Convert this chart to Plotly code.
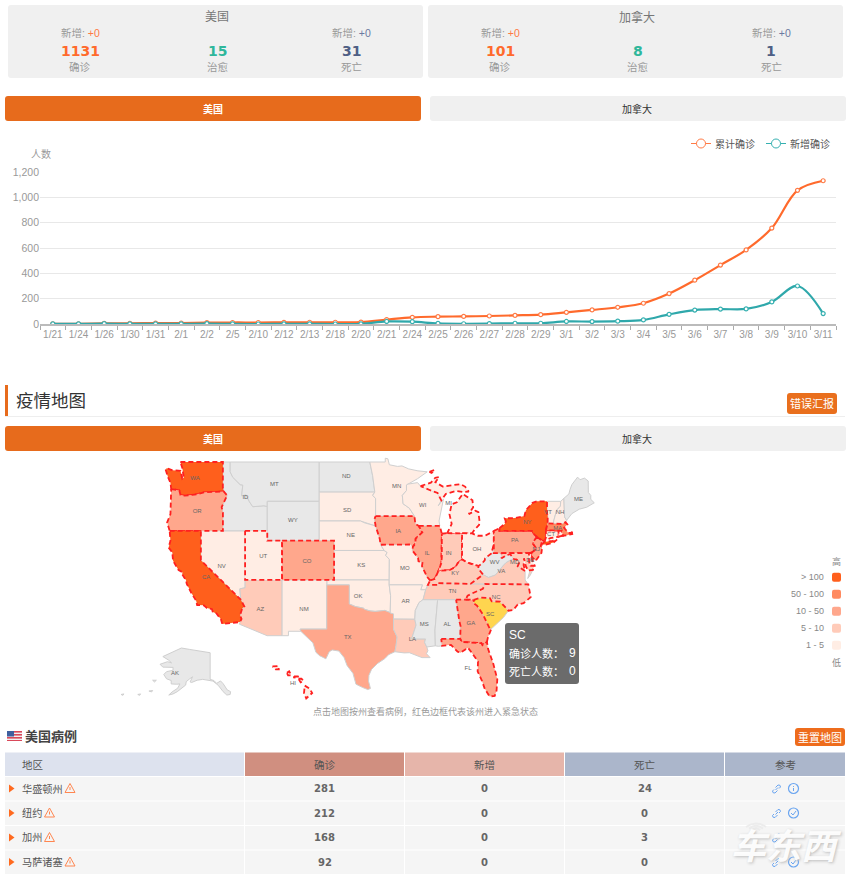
import plotly.graph_objects as go

FONT = "Liberation Sans, Noto Sans CJK SC"
NUMFONT = "DejaVu Sans, Noto Sans CJK SC"

# line chart data
dates = ['1/21', '1/24', '1/26', '1/30', '1/31', '2/1', '2/2', '2/5', '2/10', '2/12', '2/13', '2/18', '2/20', '2/21',
         '2/24', '2/25', '2/26', '2/27', '2/28', '2/29', '3/1', '3/2', '3/3', '3/4', '3/5', '3/6', '3/7', '3/8',
         '3/9', '3/10', '3/11']
total_cases = [1, 2, 5, 6, 7, 8, 11, 12, 12, 13, 14, 14, 15, 35, 53, 58, 60, 63, 68, 74, 92, 111, 132, 164, 240, 346,
               465, 585, 757, 1055, 1131]
new_cases = [1, 1, 3, 1, 1, 1, 3, 1, 0, 1, 1, 0, 1, 20, 18, 5, 2, 3, 6, 6, 20, 19, 22, 32, 76, 110, 118, 119, 174,
             300, 82]
y_ticks = [0, 200, 400, 600, 800, 1000, 1200]

# summary cards
card_names = ['美国', '加拿大']
card_confirmed = ['1131', '101']
card_cured = ['15', '8']
card_dead = ['31', '1']

# table
table_header = ['地区', '确诊', '新增', '死亡', '参考']
table_states = ['华盛顿州', '纽约', '加州', '马萨诸塞']
table_confirmed = [281, 212, 168, 92]
table_new = [0, 0, 0, 0]
table_dead = [24, 0, 3, 0]

# map legend
legend_labels = ['> 100', '50 - 100', '10 - 50', '5 - 10', '1 - 5']
legend_colors = ['#ff5f1c', '#ff8a60', '#ffa78c', '#ffcbb9', '#ffede4']

states_over_100 = ['WA', 'CA', 'NY']
states_50_100 = ['MA']
states_10_50 = ['OR', 'CO', 'TX', 'IA', 'IL', 'GA', 'FL', 'PA', 'NJ']
states_5_10 = ['AZ', 'LA', 'IN', 'KY', 'TN', 'NC', 'VA', 'MD']
states_1_5 = ['NV', 'UT', 'NM', 'SD', 'NE', 'KS', 'OK', 'MN', 'MO', 'AR', 'WI', 'MI', 'OH', 'DE', 'CT', 'RI', 'VT',
              'NH', 'HI']
states_none = ['ID', 'MT', 'WY', 'ND', 'MS', 'AL', 'WV', 'ME', 'AK']
states_hover = ['SC']
states_emergency = ['WA', 'OR', 'CA', 'UT', 'CO', 'IA', 'IL', 'IN', 'MI', 'OH', 'KY', 'GA', 'FL', 'NC', 'PA', 'NY',
                    'NJ', 'MD', 'DE', 'CT', 'RI', 'MA', 'HI']

# state outlines in lon/lat, parts split by None
WA = [(-122.76, 49), (-117.03, 49), (-117.04, 46.42), (-116.92, 46), (-119, 45.93), (-119.6, 45.92), (-120.5, 45.72),
      (-121.2, 45.65), (-122.2, 45.58), (-122.75, 45.65), (-122.9, 46.1), (-123.4, 46.2), (-124, 46.25), (-124.1, 46.9),
      (-124.4, 47.4), (-124.73, 48.17), (-124.6, 48.38), (-123.9, 48.17), (-123.1, 48.15), (-122.75, 48.1),
      (-122.6, 47.6), (-122.5, 47.3), (-122.3, 47.4), (-122.35, 47.9), (-122.5, 48.4)]
OR = [(-124, 46.25), (-123.4, 46.2), (-122.9, 46.1), (-122.75, 45.65), (-122.2, 45.58), (-121.2, 45.65), (-120.5, 45.72),
      (-119.6, 45.92), (-119, 45.93), (-116.92, 46), (-116.46, 45.6), (-116.85, 44.95), (-117.2, 44.4), (-117.03, 43.85),
      (-117.03, 42), (-124.21, 42), (-124.55, 42.84), (-124.1, 43.7), (-124.07, 44.7), (-123.95, 45.6)]
CA = [(-124.21, 42), (-120, 42), (-120, 39), (-114.63, 35), (-114.14, 34.3), (-114.43, 34.1), (-114.72, 33.4),
      (-114.52, 33.03), (-114.72, 32.72), (-117.12, 32.53), (-117.3, 33), (-117.9, 33.6), (-118.4, 33.75), (-118.5, 34.03),
      (-119.2, 34.15), (-119.6, 34.42), (-120.5, 34.45), (-120.65, 34.9), (-121.3, 35.7), (-121.9, 36.6), (-122, 36.96),
      (-122.5, 37.55), (-122.5, 37.8), (-123, 38), (-123.75, 38.95), (-123.85, 39.8), (-124.35, 40.3), (-124.1, 41)]
NV = [(-120, 42), (-114.04, 42), (-114.04, 36.2), (-114.74, 36.1), (-114.63, 35), (-120, 39)]
ID = [(-117.03, 49), (-116.05, 49), (-116.05, 48), (-115.7, 47.45), (-114.7, 46.7), (-114.35, 46.65), (-114.5, 45.57),
      (-113.9, 45.65), (-113.45, 44.95), (-113, 44.45), (-111.5, 44.55), (-111.05, 44.47), (-111.05, 42), (-117.03, 42),
      (-117.03, 43.85), (-117.2, 44.4), (-116.85, 44.95), (-116.46, 45.6), (-116.92, 46), (-117.04, 46.42)]
MT = [(-116.05, 49), (-104.05, 49), (-104.05, 45), (-111.05, 45), (-111.05, 44.47), (-111.5, 44.55), (-113, 44.45),
      (-113.45, 44.95), (-113.9, 45.65), (-114.5, 45.57), (-114.35, 46.65), (-114.7, 46.7), (-115.7, 47.45), (-116.05, 48)]
WY = [(-111.05, 45), (-104.05, 45), (-104.05, 41), (-111.05, 41)]
UT = [(-114.04, 42), (-111.05, 42), (-111.05, 41), (-109.05, 41), (-109.05, 37), (-114.04, 37)]
CO = [(-109.05, 41), (-102.05, 41), (-102.05, 37), (-109.05, 37)]
AZ = [(-114.04, 37), (-109.05, 37), (-109.05, 31.33), (-111.07, 31.33), (-114.81, 32.5), (-114.72, 32.72), (-114.52, 33.03),
      (-114.72, 33.4), (-114.43, 34.1), (-114.14, 34.3), (-114.63, 35), (-114.74, 36.1), (-114.04, 36.2)]
NM = [(-109.05, 37), (-103, 37), (-103.04, 32), (-106.62, 32), (-106.53, 31.78), (-108.2, 31.78), (-108.2, 31.33),
      (-109.05, 31.33)]
ND = [(-104.05, 49), (-97.23, 49), (-96.85, 47.6), (-96.56, 45.94), (-104.05, 45.94)]
SD = [(-104.05, 45.94), (-96.56, 45.94), (-96.85, 45.6), (-96.45, 45.3), (-96.45, 43.5), (-96.6, 43.2), (-96.45, 42.49),
      (-97.9, 42.8), (-98.5, 43), (-104.05, 43)]
NE = [(-104.05, 43), (-98.5, 43), (-97.9, 42.8), (-96.45, 42.49), (-96.1, 41.7), (-95.9, 41.2), (-95.77, 40.58),
      (-95.3, 40), (-102.05, 40), (-102.05, 41), (-104.05, 41)]
KS = [(-102.05, 40), (-95.3, 40), (-94.9, 39.8), (-95.1, 39.5), (-94.6, 39.1), (-94.62, 37), (-102.05, 37)]
OK = [(-103, 37), (-94.62, 37), (-94.62, 36.5), (-94.43, 35.4), (-94.48, 33.64), (-95.2, 33.9), (-96.5, 33.8),
      (-97.2, 33.85), (-97.9, 34), (-98.1, 34.13), (-99.2, 34.3), (-100, 34.56), (-100, 36.5), (-103, 36.5)]
TX = [(-103.04, 36.5), (-100, 36.5), (-100, 34.56), (-99.2, 34.3), (-98.1, 34.13), (-97.9, 34), (-97.2, 33.85), (-96.5, 33.8),
      (-95.2, 33.9), (-94.48, 33.64), (-94.04, 33.55), (-94.04, 31.99), (-93.55, 31.2), (-93.7, 30.3), (-93.85, 29.7),
      (-94.7, 29.4), (-95.2, 29), (-96.2, 28.5), (-97, 27.9), (-97.35, 27.3), (-97.4, 26.7), (-97.15, 25.96), (-97.5, 25.85),
      (-98.2, 26.06), (-99.1, 26.4), (-99.5, 27.5), (-100.3, 28.3), (-100.7, 29.1), (-101.4, 29.77), (-102.3, 29.88),
      (-102.7, 29.7), (-103.15, 28.98), (-104, 29.3), (-104.5, 29.65), (-104.9, 30.6), (-106.53, 31.78), (-106.62, 32),
      (-103.04, 32)]
MN = [(-97.23, 49), (-95.15, 49), (-95.15, 49.38), (-94.8, 49.33), (-94.6, 48.72), (-93.5, 48.55), (-92.9, 48.6), (-92, 48.3),
      (-90.75, 48.1), (-89.5, 48), (-90.8, 47.3), (-92.1, 46.75), (-92.29, 46.66), (-92.29, 46.1), (-92.85, 45.6),
      (-92.75, 44.75), (-91.9, 44.3), (-91.22, 43.5), (-96.45, 43.5), (-96.45, 45.3), (-96.85, 45.6), (-96.56, 45.94),
      (-96.85, 47.6)]
IA = [(-96.45, 43.5), (-91.22, 43.5), (-91.1, 42.7), (-90.64, 42.5), (-90.15, 41.85), (-91.05, 41.2), (-91.1, 40.7),
      (-91.42, 40.38), (-91.73, 40.61), (-95.77, 40.58), (-95.9, 41.2), (-96.1, 41.7), (-96.45, 42.49), (-96.6, 43.2)]
MO = [(-95.77, 40.58), (-91.73, 40.61), (-91.42, 40.38), (-91.5, 40), (-90.73, 39.25), (-90.67, 38.9), (-90.12, 38.83),
      (-90.2, 38.4), (-89.5, 37.3), (-89.1, 36.95), (-89.4, 36.5), (-89.7, 36), (-90.37, 36), (-90.15, 36.5), (-94.62, 36.5),
      (-94.62, 37), (-94.6, 39.1), (-95.1, 39.5), (-94.9, 39.8), (-95.3, 40)]
AR = [(-94.62, 36.5), (-90.15, 36.5), (-90.37, 36), (-89.7, 36), (-90.05, 35), (-90.6, 34.7), (-91.1, 33.9), (-91.17, 33),
      (-94.04, 33.02), (-94.04, 33.55), (-94.48, 33.64), (-94.43, 35.4)]
LA = [(-94.04, 33.02), (-91.17, 33), (-91, 32.4), (-91.6, 31), (-89.73, 31), (-89.85, 30.65), (-89.55, 30.18), (-89.4, 29.8),
      (-89.6, 29.5), (-89.1, 29.1), (-90.2, 29.1), (-91.3, 29.4), (-91.9, 29.6), (-92.6, 29.58), (-93.85, 29.7), (-93.7, 30.3),
      (-93.55, 31.2), (-94.04, 31.99)]
MS = [(-90.05, 35), (-88.2, 35), (-88.1, 34.9), (-88.45, 31.9), (-88.4, 30.3), (-89.55, 30.18), (-89.85, 30.65), (-89.73, 31),
      (-91.6, 31), (-91, 32.4), (-91.17, 33), (-91.1, 33.9), (-90.6, 34.7)]
AL = [(-88.2, 35), (-85.6, 35), (-85.18, 32.87), (-85, 32.3), (-85.05, 31), (-87.6, 31), (-87.5, 30.3), (-88, 30.25),
      (-88.4, 30.3), (-88.45, 31.9), (-88.1, 34.9)]
GA = [(-85.6, 35), (-83.1, 35), (-83.35, 34.7), (-82.8, 34.4), (-82, 33.5), (-81.4, 32.6), (-81.1, 32.1), (-80.85, 32.03),
      (-81.3, 31.2), (-81.45, 30.7), (-82.05, 30.36), (-82.2, 30.57), (-84.86, 30.7), (-85.05, 31), (-85, 32.3), (-85.18, 32.87)]
FL = [(-87.6, 31), (-85.05, 31), (-84.86, 30.7), (-82.2, 30.57), (-82.05, 30.36), (-81.45, 30.7), (-81.3, 30), (-80.6, 28.5),
      (-80.05, 26.9), (-80.15, 25.75), (-80.4, 25.2), (-81.1, 25.15), (-81.75, 25.95), (-82.1, 26.7), (-82.7, 27.7), (-82.65, 28.7),
      (-83.4, 29.5), (-84, 30.1), (-85, 29.6), (-85.4, 29.7), (-86.3, 30.4), (-87.5, 30.3)]
SC = [(-83.35, 34.7), (-83.1, 35), (-82.3, 35.2), (-81.05, 35.15), (-80.8, 34.82), (-79.67, 34.8), (-78.55, 33.87), (-79.2, 33.2),
      (-79.9, 32.7), (-80.85, 32.03), (-81.1, 32.1), (-81.4, 32.6), (-82, 33.5), (-82.8, 34.4)]
NC = [(-84.32, 35), (-83.1, 35), (-82.3, 35.2), (-81.05, 35.15), (-80.8, 34.82), (-79.67, 34.8), (-78.55, 33.87), (-77.9, 33.95),
      (-77.3, 34.5), (-76.5, 34.65), (-75.55, 35.25), (-75.87, 36.55), (-81.68, 36.59), (-82, 36.1), (-83.1, 35.75), (-84.05, 35.4)]
TN = [(-89.4, 36.5), (-88.07, 36.5), (-88.07, 36.68), (-83.67, 36.6), (-81.68, 36.59), (-82, 36.1), (-83.1, 35.75), (-84.05, 35.4),
      (-84.32, 35), (-90.05, 35), (-89.7, 36)]
KY = [(-89.1, 36.95), (-88.5, 37.1), (-88.05, 37.8), (-87.6, 37.95), (-86.5, 38), (-85.7, 38.3), (-85.4, 38.7), (-84.8, 39.1),
      (-84.3, 38.85), (-83.7, 38.65), (-82.6, 38.42), (-82.6, 38.15), (-81.97, 37.54), (-83.67, 36.6), (-88.07, 36.68),
      (-88.07, 36.5), (-89.4, 36.5)]
IL = [(-90.64, 42.5), (-87.8, 42.5), (-87.53, 41.7), (-87.53, 39.3), (-87.6, 38.7), (-88.05, 37.8), (-88.5, 37.1), (-89.1, 36.95),
      (-89.5, 37.3), (-90.2, 38.4), (-90.12, 38.83), (-90.67, 38.9), (-90.73, 39.25), (-91.5, 40), (-91.42, 40.38), (-91.1, 40.7),
      (-91.05, 41.2), (-90.15, 41.85)]
IN = [(-87.53, 41.7), (-86.8, 41.76), (-84.8, 41.76), (-84.8, 39.1), (-85.4, 38.7), (-85.7, 38.3), (-86.5, 38), (-87.6, 37.95),
      (-88.05, 37.8), (-87.6, 38.7), (-87.53, 39.3)]
OH = [(-84.8, 41.76), (-83.45, 41.73), (-82.7, 41.5), (-81.7, 41.5), (-80.52, 41.98), (-80.52, 40.64), (-80.85, 39.7), (-81.7, 39.2),
      (-81.75, 39), (-82.2, 38.6), (-82.6, 38.42), (-83.7, 38.65), (-84.3, 38.85), (-84.8, 39.1)]
MI = [(-86.8, 41.76), (-84.8, 41.76), (-83.45, 41.73), (-83.15, 42.1), (-82.5, 42.6), (-82.45, 43), (-82.6, 43.9), (-83, 44.05),
      (-83.9, 43.7), (-83.3, 44.4), (-83.4, 45.1), (-84.7, 45.75), (-85, 45.4), (-85.5, 44.9), (-86.2, 44.7), (-86.5, 43.7),
      (-86.2, 42.7), None,
      (-90.4, 46.55), (-89, 46.9), (-88.4, 47.4), (-87.9, 47.47), (-88.4, 46.95), (-87.4, 46.5), (-85, 46.75), (-84.4, 46.5),
      (-83.9, 46), (-84.7, 45.95), (-85.6, 46.05), (-86.5, 45.85), (-87, 45.75), (-87.6, 45.1), (-87.8, 45.35), (-88.1, 45.85),
      (-89.1, 46.13), None,
      (-89.2, 48), (-88.5, 48.2), (-88.9, 47.9)]
WI = [(-92.29, 46.66), (-92.1, 46.75), (-90.8, 46.9), (-90.4, 46.55), (-89.1, 46.13), (-88.1, 45.85), (-87.8, 45.35), (-87.6, 45.1),
      (-88, 44.55), (-87.3, 45.25), (-87.5, 44.5), (-87.9, 43), (-87.8, 42.5), (-90.64, 42.5), (-91.1, 42.7), (-91.22, 43.5),
      (-91.9, 44.3), (-92.75, 44.75), (-92.85, 45.6), (-92.29, 46.1)]
WV = [(-82.6, 38.42), (-82.2, 38.6), (-81.75, 39), (-81.7, 39.2), (-80.85, 39.7), (-80.52, 40.64), (-80.52, 39.72), (-79.48, 39.72),
      (-79.48, 39.2), (-78.75, 39.55), (-78.3, 39.62), (-77.83, 39.13), (-78.3, 39), (-78.87, 38.76), (-79.3, 38.42), (-80.3, 37.5),
      (-81.25, 37.25), (-81.97, 37.54), (-82.6, 38.15)]
VA = [(-83.67, 36.6), (-81.97, 37.54), (-81.25, 37.25), (-80.3, 37.5), (-79.3, 38.42), (-78.87, 38.76), (-78.3, 39), (-77.83, 39.13),
      (-77.5, 39.1), (-77.05, 38.85), (-77.3, 38.4), (-76.3, 37.9), (-76.3, 37), (-75.87, 36.55), (-81.68, 36.59), None,
      (-75.25, 38.03), (-75.65, 37.95), (-75.95, 37.15), (-75.6, 37.5)]
MD = [(-79.48, 39.72), (-75.79, 39.72), (-75.7, 38.46), (-75.05, 38.45), (-75.25, 38.03), (-75.9, 37.95), (-76.2, 38.4),
      (-76.45, 39.2), (-76.5, 38.5), (-76.3, 37.9), (-77.3, 38.4), (-77.05, 38.85), (-77.5, 39.1), (-77.83, 39.13), (-78.3, 39.62),
      (-78.75, 39.55), (-79.48, 39.2)]
DE = [(-75.79, 39.72), (-75.4, 39.8), (-75.55, 39.5), (-75.05, 38.45), (-75.7, 38.46)]
PA = [(-80.52, 41.98), (-79.76, 42.27), (-79.76, 42), (-75.35, 42), (-75.05, 41.6), (-74.7, 41.36), (-75.13, 40.97), (-75.2, 40.65),
      (-74.73, 40.15), (-75.4, 39.8), (-75.79, 39.72), (-80.52, 39.72)]
NY = [(-79.76, 42.27), (-79.05, 42.7), (-78.9, 42.95), (-79.05, 43.27), (-77.6, 43.3), (-76.4, 43.5), (-76.2, 44.1), (-75.3, 44.85),
      (-74.7, 45), (-73.35, 45), (-73.35, 43.75), (-73.25, 43.55), (-73.27, 42.75), (-73.5, 42.05), (-73.5, 41.3), (-73.65, 41),
      (-74, 41), (-74.7, 41.36), (-75.05, 41.6), (-75.35, 42), (-79.76, 42), None,
      (-74.02, 40.6), (-73.75, 40.87), (-72.6, 40.98), (-72, 41.1), (-72.5, 40.8), (-73.5, 40.6)]
NJ = [(-74.7, 41.36), (-74, 41), (-74.2, 40.45), (-74, 40.4), (-74.1, 39.75), (-74.9, 38.93), (-75.55, 39.5), (-75.4, 39.8),
      (-74.73, 40.15), (-75.2, 40.65), (-75.13, 40.97)]
CT = [(-73.5, 42.05), (-71.8, 42.02), (-71.8, 41.4), (-72.9, 41.25), (-73.65, 41), (-73.5, 41.3)]
RI = [(-71.8, 42.02), (-71.38, 42.02), (-71.2, 41.5), (-71.8, 41.4)]
MA = [(-73.5, 42.05), (-73.27, 42.75), (-71.3, 42.7), (-70.85, 42.88), (-70.6, 42.65), (-71.05, 42.3), (-70.65, 41.95), (-70.5, 41.78),
      (-70, 41.78), (-70.05, 42.05), (-69.95, 41.67), (-70.65, 41.55), (-71.2, 41.5), (-71.38, 42.02), (-71.8, 42.02)]
VT = [(-73.35, 45), (-71.5, 45), (-71.55, 44.5), (-72.05, 44.1), (-72.45, 43), (-72.46, 42.73), (-73.27, 42.75), (-73.25, 43.55),
      (-73.35, 43.75)]
NH = [(-71.5, 45), (-71.08, 45.3), (-70.98, 43.4), (-70.7, 43.07), (-70.85, 42.88), (-71.3, 42.7), (-72.46, 42.73), (-72.45, 43),
      (-72.05, 44.1), (-71.55, 44.5)]
ME = [(-71.08, 45.3), (-70.4, 45.75), (-70.25, 46.2), (-70, 46.7), (-69.23, 47.46), (-68.9, 47.2), (-68.3, 47.36), (-67.8, 47.07),
      (-67.78, 45.9), (-67.45, 45.6), (-67.45, 45.2), (-66.98, 44.85), (-68, 44.4), (-69, 44.2), (-70, 43.75), (-70.7, 43.07),
      (-70.98, 43.4)]
AK = [(-141, 69.65), (-141, 60.3), (-139, 59.9), (-137.5, 58.9), (-135.4, 59.75), (-134, 58.8), (-131.8, 56.6), (-130, 56), (-130.2, 55),
      (-132, 54.8), (-134, 56), (-135.5, 57.5), (-136.6, 58.2), (-139.5, 59.7), (-142.5, 60.05), (-145, 60.3), (-148, 60), (-151, 59.2),
      (-151.8, 59.4), (-150.5, 61.2), (-152, 60.5), (-153.9, 59.5), (-154.2, 58.3), (-156.5, 57), (-158.7, 56), (-161, 55.2),
      (-163.3, 54.8), (-161.5, 55.9), (-158.5, 57.2), (-157.3, 58.7), (-159, 58.6), (-162, 58.7), (-162, 59.9), (-164.5, 60.5),
      (-165.3, 61.5), (-166, 62), (-164.5, 63), (-161, 63.5), (-161, 64.5), (-166.5, 64.6), (-168, 65.6), (-164, 66.5), (-161.8, 66.1),
      (-163.5, 67.1), (-166.5, 68.3), (-163, 69.3), (-160, 70.4), (-156.5, 71.3), (-152, 70.8), (-147, 70.2), None,
      (-172, 60), (-170, 60), (-171, 59.4), None, (-174, 56.2), (-172, 56.4), (-172.5, 55.9), None,
      (-180, 55), (-178.5, 55.2), (-179, 54.7), None, (-189, 55), (-187.5, 55.2), (-188, 54.7)]
HI = [(-160.2, 22.2), (-159.4, 22.25), (-159.35, 21.9), (-159.75, 21.9), None,
      (-158.25, 21.55), (-157.95, 21.7), (-157.65, 21.3), (-158.1, 21.3), None,
      (-157.3, 21.2), (-156.7, 21.18), (-156.85, 21.05), (-157.3, 21.08), None,
      (-156.7, 20.95), (-156.3, 20.95), (-156, 20.75), (-156.4, 20.58), None,
      (-155.85, 20.25), (-155.2, 19.95), (-154.85, 19.5), (-155.65, 18.95), (-155.95, 19.5)]

state_outlines = {'WA': WA, 'OR': OR, 'CA': CA, 'NV': NV, 'ID': ID, 'MT': MT, 'WY': WY, 'UT': UT, 'CO': CO, 'AZ': AZ, 'NM': NM,
                  'ND': ND, 'SD': SD, 'NE': NE, 'KS': KS, 'OK': OK, 'TX': TX, 'MN': MN, 'IA': IA, 'MO': MO, 'AR': AR, 'LA': LA,
                  'MS': MS, 'AL': AL, 'GA': GA, 'FL': FL, 'SC': SC, 'NC': NC, 'TN': TN, 'KY': KY, 'IL': IL, 'IN': IN, 'OH': OH,
                  'MI': MI, 'WI': WI, 'WV': WV, 'VA': VA, 'MD': MD, 'DE': DE, 'PA': PA, 'NY': NY, 'NJ': NJ, 'CT': CT, 'RI': RI,
                  'MA': MA, 'VT': VT, 'NH': NH, 'ME': ME, 'AK': AK, 'HI': HI}

# state label positions in map coordinates
label_codes = ['WA', 'OR', 'CA', 'NV', 'ID', 'MT', 'WY', 'UT', 'CO', 'AZ', 'NM', 'TX', 'ND', 'SD', 'NE', 'KS', 'OK', 'MN', 'IA', 'MO',
               'AR', 'LA', 'WI', 'IL', 'IN', 'MI', 'OH', 'KY', 'TN', 'MS', 'AL', 'GA', 'FL', 'SC', 'NC', 'VA', 'WV', 'PA', 'NY', 'NJ',
               'MD', 'DE', 'CT', 'MA', 'VT', 'NH', 'ME', 'AK', 'HI']
label_lon = [-120.8, -120.5, -119.3, -117.2, -114, -110.1, -107.6, -111.6, -105.7, -112, -106.1, -100.2, -100.4, -100.3, -99.8, -98.4,
             -98.8, -93.6, -93.4, -92.5, -92.4, -91.5, -90.1, -89.5, -86.6, -86.6, -82.8, -85.7, -86.1, -89.9, -86.8, -83.6, -84,
             -81, -80.2, -79.5, -80.4, -77.7, -76, -74.8, -77.7, -75.6, -72.8, -71.9, -73.2, -71.6, -69.1, -123.5, -107.6]
label_lat = [47.3, 44, 37.2, 38.4, 45.4, 46.7, 43, 39.4, 38.9, 34, 34, 31.1, 47.5, 44.1, 41.5, 38.5, 35.3, 46.5, 41.9, 38.2, 34.8, 30.9,
             44.6, 39.7, 39.7, 44.8, 40.1, 37.7, 35.8, 32.5, 32.5, 32.6, 28, 33.5, 35.2, 37.9, 38.8, 41, 42.8, 40.1, 38.8, 39, 41.6,
             42.2, 43.9, 43.9, 45.2, 27.5, 26.5]

# pixel scale of the map: lon/lat are plain linear axes
MAP_X0, MAP_Y0, PX_LON, PX_LAT = 166, 462, 7.42, 9.83
W, H = 850, 874

fig = go.Figure()

# line chart
fig.add_trace(go.Scatter(x=dates, y=total_cases, mode='lines+markers', name='累计确诊',
                         line=dict(color='#ff6a2c', width=2.2, shape='spline', smoothing=1),
                         marker=dict(color='white', size=4, line=dict(color='#ff7a45', width=1.2))))
fig.add_trace(go.Scatter(x=dates, y=new_cases, mode='lines+markers', name='新增确诊',
                         line=dict(color='#2fa8ab', width=2.2, shape='spline', smoothing=1),
                         marker=dict(color='white', size=4, line=dict(color='#35b0b0', width=1.2))))


def state_fill(code):
    if code in states_hover:
        return '#ffd54f'
    for group, color in zip([states_over_100, states_50_100, states_10_50, states_5_10, states_1_5], legend_colors):
        if code in group:
            return color
    return '#e8e8e8'


def inset(code, pt):
    # Alaska and Hawaii are moved next to the mainland
    if code == 'AK':
        return pt[0] * 0.25 - 83.5, pt[1] * 0.29 + 9.4
    if code == 'HI':
        return pt[0] + 49.85, pt[1] + 6
    return pt


plain = [c for c in state_outlines if c not in states_emergency]
for code in plain + states_emergency:
    xs, ys = [], []
    first = None
    for pt in state_outlines[code] + [None]:
        if pt is None:
            # close this part of the state
            xs += [first[0], None]
            ys += [first[1], None]
            first = None
        else:
            lon, lat = inset(code, pt)
            if first is None:
                first = (lon, lat)
            xs.append(lon)
            ys.append(lat)
    if code in states_emergency:
        line = dict(color='#ff2020', width=1.8, dash='5px,3px')
    else:
        line = dict(color='#cfcfcf', width=1)
    fig.add_trace(go.Scatter(x=xs, y=ys, xaxis='x2', yaxis='y2', mode='lines', fill='toself', line=line,
                             fillcolor=state_fill(code), hoverinfo='skip', showlegend=False))

fig.add_trace(go.Scatter(x=label_lon, y=label_lat, text=label_codes, xaxis='x2', yaxis='y2', mode='text',
                         textfont=dict(size=6, color='#666', family=FONT), hoverinfo='skip', showlegend=False))
# keeps the pixel overlay axes alive
fig.add_trace(go.Scatter(x=[0], y=[0], xaxis='x3', yaxis='y3', mode='markers', marker=dict(opacity=0),
                         hoverinfo='skip', showlegend=False))

shapes = []
notes = []


def text(x, y, s, size=11, color='#666', anchor='center', family=FONT):
    notes.append(dict(x=x, y=y, xref='x3', yref='y3', text=s, showarrow=False, xanchor=anchor, yanchor='middle',
                      borderpad=0, borderwidth=0, font=dict(size=size, color=color, family=family)))


def rrect(x0, y0, x1, y1, fill, r=3):
    path = (f'M{x0 + r},{y0} L{x1 - r},{y0} Q{x1},{y0} {x1},{y0 + r} L{x1},{y1 - r} Q{x1},{y1} {x1 - r},{y1} '
            f'L{x0 + r},{y1} Q{x0},{y1} {x0},{y1 - r} L{x0},{y0 + r} Q{x0},{y0} {x0 + r},{y0} Z')
    shapes.append(dict(type='path', path=path, xref='x3', yref='y3', fillcolor=fill, line=dict(width=0)))


def rect(x0, y0, x1, y1, fill):
    shapes.append(dict(type='rect', x0=x0, y0=y0, x1=x1, y1=y1, xref='x3', yref='y3', fillcolor=fill, line=dict(width=0)))


def circle(cx, cy, r, color, fill='rgba(0,0,0,0)', width=1):
    shapes.append(dict(type='circle', x0=cx - r, y0=cy - r, x1=cx + r, y1=cy + r, xref='x3', yref='y3', fillcolor=fill,
                       line=dict(color=color, width=width)))


def segment(x0, y0, x1, y1, color, width=1):
    shapes.append(dict(type='line', x0=x0, y0=y0, x1=x1, y1=y1, xref='x3', yref='y3', line=dict(color=color, width=width)))


def path(d, color='rgba(0,0,0,0)', fill='rgba(0,0,0,0)', width=1):
    shapes.append(dict(type='path', path=d, xref='x3', yref='y3', fillcolor=fill, line=dict(color=color, width=width)))


# summary cards
for i, (left, right) in enumerate([(8, 423), (428, 843)]):
    rrect(left, 5, right, 78, '#f0f0f0')
    mid = (left + right) / 2 + 1
    x_a, x_c = left + 72, left + 343
    text(mid, 17, card_names[i], 12, '#777')
    text(x_a, 33, '新增: <span style="color:#ff7a45">+0</span>', 10.5, '#999')
    text(x_c, 33, '新增: <span style="color:#6c7aa0">+0</span>', 10.5, '#999')
    text(x_a, 51, f'<b>{card_confirmed[i]}</b>', 14, '#ff6a2c', family=NUMFONT)
    text(mid + 1, 51, f'<b>{card_cured[i]}</b>', 14, '#2fb79b', family=NUMFONT)
    text(x_c, 51, f'<b>{card_dead[i]}</b>', 14, '#4f5f85', family=NUMFONT)
    text(x_a, 67, '确诊', 10.5, '#999')
    text(mid + 1, 67, '治愈', 10.5, '#999')
    text(x_c, 67, '死亡', 10.5, '#999')

# tab rows
for top, bottom in [(96, 121), (426, 451)]:
    rrect(5, top, 421, bottom, '#e76b1c')
    rrect(430, top, 846, bottom, '#f0f0f0')
    text(213, (top + bottom) / 2, '<b>美国</b>', 10, 'white')
    text(637, (top + bottom) / 2, '加拿大', 10, '#333')

# line chart legend and unit
for x0, x_text, color, name in [(691, 715, '#ff7a45', '累计确诊'), (766, 790, '#35b0b0', '新增确诊')]:
    segment(x0, 143.5, x0 + 20, 143.5, color)
    circle(x0 + 10, 143.5, 4.5, color, 'white')
    text(x_text, 143.5, name, 10, '#555', 'left')
text(41, 154, '人数', 10, '#999')

# map section header
rect(5, 385, 8, 417, '#e76b1c')
segment(5, 416.5, 845, 416.5, '#eeeeee')
text(16, 401, '疫情地图', 17.5, '#333', 'left')
rrect(787, 393, 837, 414, '#e96f1d')
text(812, 403.5, '错误汇报', 11, 'white')

# map legend
text(836, 561, '高', 9, '#888')
text(836, 662, '低', 9, '#888')
for i, (lab, col) in enumerate(zip(legend_labels, legend_colors)):
    cy = 577.3 + i * 17
    rrect(832, cy - 4.5, 841, cy + 4.5, col, 2)
    text(823.5, cy, lab, 9, '#888', 'right')

# map tooltip
rrect(505, 623, 579, 684, '#6b6b6b', 3)
text(509, 635, 'SC', 12, 'white', 'left')
text(509, 653, '确诊人数：', 11, 'white', 'left')
text(576, 653, '9', 12, 'white', 'right')
text(509, 671, '死亡人数：', 11, 'white', 'left')
text(576, 671, '0', 12, 'white', 'right')

text(425, 711, '点击地图按州查看病例，红色边框代表该州进入紧急状态', 9, '#999')

# flag and table title
rect(7, 731, 22, 741, '#d9495a')
for k in range(3):
    rect(7, 732.6 + k * 3, 22, 734 + k * 3, '#f3f0f0')
rect(7, 731, 14, 736.5, '#3f5f9e')
text(25, 736, '<b>美国病例</b>', 13, '#444', 'left')
rrect(795, 728, 845, 746, '#ee6c1c')
text(820, 737, '重置地图', 11, 'white')

# table
col_edges = [(5, 244), (245, 404), (405, 564), (565, 724), (725, 845)]
head_colors = ['#dde2ee', '#d08f80', '#e6b5aa', '#abb6cb', '#abb6cb']
row_tops = [777, 801.5, 826, 850.5]
warn_x = [70, 49.5, 49.5, 70]
for (x0, x1), col, name in zip(col_edges, head_colors, table_header):
    rect(x0, 752.5, x1, 776, col)
    if name == '地区':
        text(22, 764.5, name, 10.5, '#555', 'left')
    else:
        text((x0 + x1) / 2, 764.5, name, 10.5, '#555')
for r, top in enumerate(row_tops):
    cy = top + 11.5
    for x0, x1 in col_edges:
        rect(x0, top, x1, top + 23.5, '#f5f5f5')
    path(f'M9,{cy - 4} L14.5,{cy} L9,{cy + 4} Z', fill='#ff6a1f')
    text(22, cy, table_states[r], 10.2, '#555', 'left')
    wx = warn_x[r]
    path(f'M{wx},{cy - 5} L{wx + 5},{cy + 4} L{wx - 5},{cy + 4} Z', color='#ff8650', width=1)
    segment(wx, cy - 1.5, wx, cy + 1.5, '#ff8650')
    for cx, val in zip([324.5, 484.5, 644.5], [table_confirmed[r], table_new[r], table_dead[r]]):
        text(cx, cy, f'<b>{val}</b>', 10, '#666', family=NUMFONT)
    # link icon
    path(f'M774,{cy + 1} L772.5,{cy + 2.5} Q772.5,{cy + 5} 775,{cy + 4.5} L777.5,{cy + 2}', color='#6aa5f0')
    path(f'M779,{cy} L780.5,{cy - 1.5} Q780.5,{cy - 4} 778,{cy - 3.5} L775.5,{cy - 1}', color='#6aa5f0')
    segment(775.5, cy + 1.5, 778, cy - 1, '#6aa5f0')
    # status icon
    if r != 2:
        circle(793.5, cy, 5, '#6aa5f0', width=1.2)
    if r == 0:
        segment(793.5, cy - 0.5, 793.5, cy + 2.5, '#6aa5f0')
        segment(793.5, cy - 2.5, 793.5, cy - 1.6, '#6aa5f0')
    elif r != 2:
        path(f'M791,{cy} L793,{cy + 2} L796,{cy - 2}', color='#6aa5f0')

# watermark
for k, half in enumerate([10, 7, 4]):
    path(f'M{756 - half},{829 - half * 0.2 + k} Q756,{820 + k * 3} {756 + half},{829 - half * 0.2 + k}', color='#ececec', width=2)
notes.append(dict(x=786, y=846, xref='x3', yref='y3', text='<b><i>车东西</i></b>', showarrow=False, xanchor='center', yanchor='middle',
                  font=dict(size=35, color='rgba(255,255,255,0.95)', family=FONT, shadow='1px 1px 3px #bbb')))

hidden = dict(visible=False, domain=[0, 1], fixedrange=True)
fig.update_layout(
    width=W, height=H,
    margin=dict(l=0, r=0, t=0, b=0, pad=0, autoexpand=False),
    paper_bgcolor='white',
    plot_bgcolor='rgba(0,0,0,0)',
    showlegend=False,
    font=dict(family=FONT),
    shapes=shapes,
    annotations=notes,
    xaxis=dict(domain=[40 / W, 836 / W], type='category', range=[-0.5, 30.5], tickson='boundaries', ticks='outside', ticklen=4,
               tickcolor='#aaa', showline=True, linecolor='#bbb', linewidth=1.5, showgrid=False, tickangle=0,
               tickfont=dict(size=10, color='#999'), tickmode='array', tickvals=dates, ticktext=dates, anchor='y'),
    yaxis=dict(domain=[(H - 324) / H, (H - 172) / H], range=[0, 1200], tickvals=y_ticks, tickformat=',', gridcolor='#e8e8e8',
               zeroline=False, ticks='', tickfont=dict(size=10.5, color='#999'), anchor='x'),
    xaxis2=dict(hidden, range=[-124.7 - MAP_X0 / PX_LON, -124.7 + (W - MAP_X0) / PX_LON], anchor='y2'),
    yaxis2=dict(hidden, range=[49 - (H - MAP_Y0) / PX_LAT, 49 + MAP_Y0 / PX_LAT], anchor='x2'),
    xaxis3=dict(hidden, range=[0, W], anchor='y3'),
    yaxis3=dict(hidden, range=[H, 0], anchor='x3'),
)

fig.write_html("out.html", config=dict(displayModeBar=False), post_script="document.body.style.margin='0';")
